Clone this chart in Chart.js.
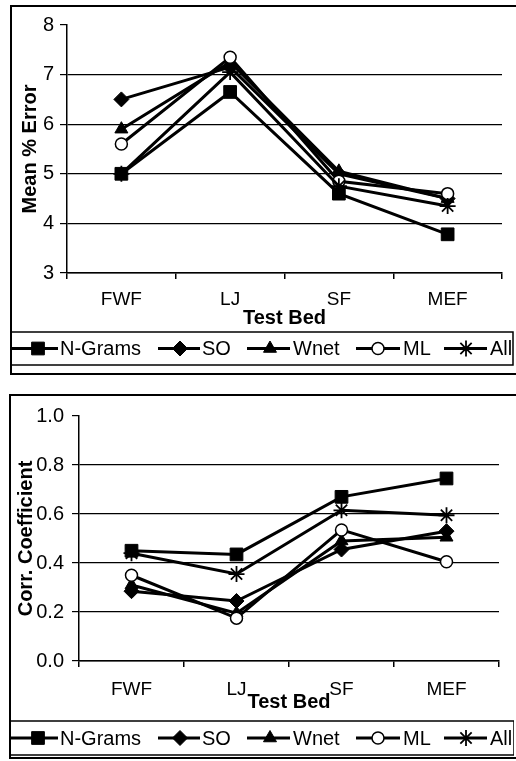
<!DOCTYPE html>
<html>
<head>
<meta charset="utf-8">
<script src="https://cdn.jsdelivr.net/npm/chart.js@4.4.1/dist/chart.umd.min.js"></script>
<style>
  body { margin: 0; background: #fff; width: 516px; height: 761px; overflow: hidden; position: relative; }
  .frame { position: absolute; border: 2px solid #000; border-right: none; }
  canvas { position: absolute; }
</style>
</head>
<body>
<div class="frame" style="left:10px;top:5px;width:520px;height:366px"></div>
<canvas id="errChart" width="502" height="364" style="left:12px;top:7px"></canvas>
<div class="frame" style="left:9px;top:394px;width:520px;height:361px"></div>
<canvas id="corrChart" width="503" height="361" style="left:11px;top:396px"></canvas>
<script>
// categories and series
const testBeds = ['FWF', 'LJ', 'SF', 'MEF'];
const seriesNames = ['N-Grams', 'SO', 'Wnet', 'ML', 'All'];

// Mean % Error (top chart)
const errNGrams = [5.0, 6.65, 4.6, 3.78];
const errSO     = [6.5, 7.15, 5.0, 4.5];
const errWnet   = [5.9, 7.25, 5.05, 4.5];
const errML     = [5.6, 7.35, 4.85, 4.6];
const errAll    = [5.0, 7.05, 4.75, 4.35];
const errTicks  = [3, 4, 5, 6, 7, 8];

// Corr. Coefficient (bottom chart)
const corrNGrams = [0.45, 0.435, 0.67, 0.745];
const corrSO     = [0.285, 0.245, 0.455, 0.53];
const corrWnet   = [0.31, 0.195, 0.49, 0.505];
const corrML     = [0.35, 0.175, 0.535, 0.405];
const corrAll    = [0.44, 0.355, 0.615, 0.595];
const corrTicks  = [0, 0.2, 0.4, 0.6, 0.8, 1.0];

const FONT = '"Liberation Sans", Arial, sans-serif';

// marker look for each series (Excel style)
const markers = [
    { style: 'rect', radius: 9, fill: '#000', border: 1 },
    { style: 'rectRot', radius: 7.5, fill: '#000', border: 1 },
    { style: 'triangle', radius: 7.5, fill: '#000', border: 1 },
    { style: 'circle', radius: 6, fill: '#fff', border: 1.5 },
    { style: 'star', radius: 8, fill: '#000', border: 1.8 }
];

// legend slots, page x coords: line start, marker, line end, text
const legendSlots = [
    { x1: 10, m: 38, x2: 58, t: 60 },
    { x1: 158, m: 180, x2: 200, t: 202 },
    { x1: 247, m: 270, x2: 290, t: 293 },
    { x1: 356, m: 378, x2: 400, t: 403 },
    { x1: 444, m: 466, x2: 487, t: 490 }
];

const boxLegend = {
    id: 'boxLegend',
    afterDraw(chart, args, opts) {
        const ctx = chart.ctx;
        const ox = opts.pageLeft;
        const cy = (opts.top + opts.bottom) / 2;
        ctx.save();
        ctx.strokeStyle = '#000';
        ctx.lineWidth = 1.5;
        ctx.strokeRect(opts.boxLeft - ox, opts.top, opts.boxRight - opts.boxLeft, opts.bottom - opts.top);
        ctx.font = '20px ' + FONT;
        ctx.textBaseline = 'middle';
        chart.data.datasets.forEach((ds, i) => {
            const s = legendSlots[i];
            ctx.strokeStyle = '#000';
            ctx.lineWidth = 3;
            ctx.beginPath();
            ctx.moveTo(s.x1 - ox, cy);
            ctx.lineTo(s.x2 - ox, cy);
            ctx.stroke();
            ctx.fillStyle = ds.pointBackgroundColor;
            ctx.lineWidth = ds.pointBorderWidth;
            Chart.helpers.drawPoint(ctx, {
                pointStyle: ds.pointStyle,
                radius: ds.pointRadius,
                rotation: 0,
                borderWidth: ds.pointBorderWidth
            }, s.m - ox, cy);
            ctx.fillStyle = '#000';
            ctx.fillText(ds.label, s.t - ox, cy + 1);
        });
        ctx.restore();
    }
};

function buildDatasets(seriesValues) {
    return seriesValues.map((vals, i) => ({
        label: seriesNames[i],
        data: vals,
        borderColor: '#000',
        borderWidth: 3,
        tension: 0,
        pointStyle: markers[i].style,
        pointRadius: markers[i].radius,
        pointBackgroundColor: markers[i].fill,
        pointBorderColor: '#000',
        pointBorderWidth: markers[i].border,
        order: seriesValues.length - i
    }));
}

function makeChart(id, seriesValues, tickValues, cfg) {
    const yMax = tickValues[tickValues.length - 1];
    new Chart(document.getElementById(id).getContext('2d'), {
        type: 'line',
        data: { labels: testBeds, datasets: buildDatasets(seriesValues) },
        options: {
            responsive: false,
            animation: false,
            devicePixelRatio: 1,
            layout: { padding: { left: 0, top: cfg.padTop, right: cfg.padRight, bottom: cfg.padBottom } },
            plugins: {
                legend: { display: false },
                tooltip: { enabled: false },
                boxLegend: cfg.legend
            },
            scales: {
                x: {
                    offset: true,
                    grid: { offset: true, drawOnChartArea: false, drawTicks: true, tickLength: 6, color: '#000', lineWidth: 1.5 },
                    border: { color: '#000', width: 1.5 },
                    ticks: { color: '#000', font: { family: FONT, size: 19 }, padding: cfg.xLabelPad, maxRotation: 0 },
                    title: {
                        display: true, text: 'Test Bed', color: '#000',
                        font: { family: FONT, size: 20, weight: 'bold' },
                        padding: { top: 0, bottom: 0 }
                    },
                    afterFit: (scale) => { scale.height = cfg.xHeight; }
                },
                y: {
                    min: tickValues[0],
                    max: yMax,
                    afterBuildTicks: (scale) => { scale.ticks = tickValues.map(v => ({ value: v })); },
                    grid: {
                        color: (c) => (c.tick && Math.abs(c.tick.value - yMax) < 1e-9) ? 'rgba(0,0,0,0)' : '#000',
                        tickColor: '#000',
                        tickLength: 7,
                        lineWidth: 1.2
                    },
                    border: { color: '#000', width: 1.5 },
                    ticks: {
                        color: '#000',
                        font: { family: FONT, size: 20 },
                        padding: cfg.yLabelPad,
                        callback: cfg.tickFormat
                    },
                    title: {
                        display: true, text: cfg.yTitle, color: '#000',
                        font: { family: FONT, size: 20, weight: 'bold' },
                        padding: { top: cfg.yTitlePad, bottom: 0 }
                    },
                    afterFit: (scale) => { scale.width = cfg.yWidth; }
                }
            }
        },
        plugins: [boxLegend]
    });
}

makeChart('errChart', [errNGrams, errSO, errWnet, errML, errAll], errTicks, {
    padTop: 15, padRight: 12, padBottom: 41,
    xHeight: 57, yWidth: 55,
    xLabelPad: 9, yLabelPad: 6, yTitlePad: 6,
    yTitle: 'Mean % Error',
    tickFormat: (v) => String(v),
    legend: { pageLeft: 12, boxLeft: 10, boxRight: 513, top: 325, bottom: 358 }
});

makeChart('corrChart', [corrNGrams, corrSO, corrWnet, corrML, corrAll], corrTicks, {
    padTop: 14, padRight: 15, padBottom: 43,
    xHeight: 53, yWidth: 68,
    xLabelPad: 11, yLabelPad: 8, yTitlePad: 3,
    yTitle: 'Corr. Coefficient',
    tickFormat: (v) => Number(v).toFixed(1),
    legend: { pageLeft: 11, boxLeft: 9, boxRight: 514, top: 325, bottom: 359 }
});
</script>
</body>
</html>
